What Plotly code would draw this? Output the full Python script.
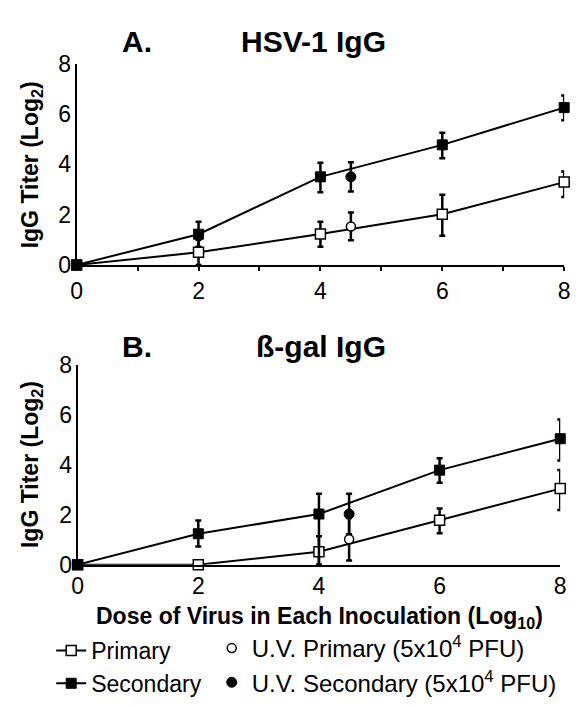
import plotly.graph_objects as go

# ---------------- data ----------------
dose = [0, 2, 4, 6, 8]
uv_dose = [4.5]

# Panel A: HSV-1 IgG
a_primary = [0, 0.50, 1.23, 2.01, 3.29]
a_primary_up = [None, 0.50, 0.49, 0.78, 0.42]
a_primary_dn = [None, 0.50, 0.51, 0.85, 0.59]
a_secondary = [0, 1.22, 3.50, 4.77, 6.25]
a_secondary_up = [None, 0.50, 0.56, 0.48, 0.48]
a_secondary_dn = [None, 0.50, 0.61, 0.53, 0.50]
a_uv_primary = [1.53]
a_uv_primary_err = [0.55]
a_uv_secondary = [3.50]
a_uv_secondary_err = [0.58]

# Panel B: beta-gal IgG
b_primary = [0, 0.0, 0.52, 1.78, 3.05]
b_primary_up = [None, None, 0.62, 0.47, 0.75]
b_primary_dn = [None, None, 0.52, 0.52, 0.86]
b_secondary = [0, 1.24, 2.03, 3.79, 5.05]
b_secondary_up = [None, 0.53, 0.81, 0.48, 0.77]
b_secondary_dn = [None, 0.51, 2.03, 0.51, 0.87]
b_uv_primary = [1.02]
b_uv_primary_err = [0.85]
b_uv_secondary = [2.03]
b_uv_secondary_err = [0.81]

x_ticks = [0, 2, 4, 6, 8]
y_ticks = [0, 2, 4, 6, 8]

legend_names = ["Primary", "Secondary",
                "U.V. Primary (5x10<sup>4</sup> PFU)",
                "U.V. Secondary (5x10<sup>4</sup> PFU)"]

FONT = "Liberation Sans, Arial, Helvetica, sans-serif"
OFF = 8                      # default page body margin
W, H = 578 - OFF, 705 - OFF

fig = go.Figure()


def err(up, dn):
    return dict(type="data", symmetric=False, array=up, arrayminus=dn,
                color="black", thickness=2.5, width=3)


def err_sym(e):
    return dict(type="data", array=e, color="black", thickness=2.5, width=3)


def add_panel(xa, ya, prim, pu, pd, sec, su, sd, uvp, uvpe, uvs, uvse, show):
    fig.add_trace(go.Scatter(
        x=dose, y=prim, mode="lines+markers", name=legend_names[0],
        xaxis=xa, yaxis=ya, showlegend=show, legend="legend",
        line=dict(color="black", width=2),
        marker=dict(symbol="square", size=10, color="white",
                    line=dict(color="black", width=1.5)),
        error_y=err(pu, pd), cliponaxis=False))
    fig.add_trace(go.Scatter(
        x=dose, y=sec, mode="lines+markers", name=legend_names[1],
        xaxis=xa, yaxis=ya, showlegend=show, legend="legend",
        line=dict(color="black", width=2),
        marker=dict(symbol="square", size=10, color="black",
                    line=dict(color="black", width=1)),
        error_y=err(su, sd), cliponaxis=False))
    fig.add_trace(go.Scatter(
        x=uv_dose, y=uvs, mode="markers", name=legend_names[3],
        xaxis=xa, yaxis=ya, showlegend=show, legend="legend2",
        marker=dict(symbol="circle", size=10, color="black",
                    line=dict(color="black", width=1)),
        error_y=err_sym(uvse), cliponaxis=False))
    fig.add_trace(go.Scatter(
        x=uv_dose, y=uvp, mode="markers", name=legend_names[2],
        xaxis=xa, yaxis=ya, showlegend=show, legend="legend2",
        marker=dict(symbol="circle", size=9, color="white",
                    line=dict(color="black", width=1.5)),
        error_y=err_sym(uvpe), cliponaxis=False))


add_panel("x", "y", a_primary, a_primary_up, a_primary_dn,
          a_secondary, a_secondary_up, a_secondary_dn,
          a_uv_primary, a_uv_primary_err, a_uv_secondary, a_uv_secondary_err, True)
add_panel("x2", "y2", b_primary, b_primary_up, b_primary_dn,
          b_secondary, b_secondary_up, b_secondary_dn,
          b_uv_primary, b_uv_primary_err, b_uv_secondary, b_uv_secondary_err, False)


def px_x(p):
    return (p - OFF) / W


def px_y(p):
    return 1 - (p - OFF) / H


axis_common = dict(showgrid=False, zeroline=False, showline=True,
                   linecolor="black", linewidth=2, range=[0, 8],
                   tickfont=dict(family=FONT, size=23, color="black"),
                   fixedrange=True)

fig.update_layout(
    width=W, height=H,
    margin=dict(l=0, r=0, t=0, b=0),
    paper_bgcolor="white", plot_bgcolor="white",
    font=dict(family=FONT, color="black"),
    xaxis=dict(domain=[px_x(72), px_x(570)], anchor="y",
               tickvals=x_ticks, ticktext=[str(v) for v in x_ticks],
               ticks="outside", ticklen=4, tickwidth=1.5, tickcolor="black",
               minor=dict(dtick=1, tick0=0, ticks="outside", ticklen=4,
                          tickwidth=1.5, tickcolor="black"),
               **axis_common),
    yaxis=dict(domain=[px_y(266), px_y(53)], anchor="x",
               tickvals=y_ticks, ticks="", ticklabelstandoff=-1, **axis_common),
    xaxis2=dict(domain=[px_x(73), px_x(566)], anchor="y2",
                tickvals=x_ticks, ticks="", ticklabelstandoff=0, **axis_common),
    yaxis2=dict(domain=[px_y(583), px_y(372)], anchor="x2",
                tickvals=y_ticks, ticks="", ticklabelstandoff=-1, **axis_common),
    legend=dict(x=px_x(46), y=px_y(651), xanchor="left", yanchor="top",
                font=dict(family=FONT, size=23, color="black"),
                bgcolor="rgba(0,0,0,0)", tracegroupgap=0, itemwidth=30),
    legend2=dict(x=px_x(210), y=px_y(648), xanchor="left", yanchor="top",
                 font=dict(family=FONT, size=24, color="black"),
                 bgcolor="rgba(0,0,0,0)", tracegroupgap=0, itemwidth=30,
                 traceorder="reversed"),
)

annots = [
    dict(text="<b>A.</b>", x=px_x(116), y=px_y(30), xanchor="left", size=30),
    dict(text="<b>HSV-1 IgG</b>", x=px_x(390), y=px_y(30), xanchor="right", size=30),
    dict(text="<b>B.</b>", x=px_x(116), y=px_y(352), xanchor="left", size=30),
    dict(text="<b>ß-gal IgG</b>", x=px_x(390), y=px_y(352), xanchor="right", size=30),
    dict(text="<b>Dose of Virus in Each Inoculation (Log<sub>10</sub>)</b>",
         x=px_x(320), y=px_y(639), xanchor="center", size=23),
]
for a in annots:
    fig.add_annotation(text=a["text"], x=a["x"], y=a["y"], xref="paper", yref="paper",
                       xanchor=a["xanchor"], yanchor="middle", showarrow=False,
                       font=dict(family=FONT, size=a["size"], color="black"))

for yc in (160, 477):
    fig.add_annotation(text="<b>IgG Titer (Log<sub>2</sub>)</b>", x=px_x(26), y=px_y(yc),
                       xref="paper", yref="paper", xanchor="center", yanchor="middle",
                       textangle=-90, showarrow=False,
                       font=dict(family=FONT, size=23, color="black"))

fig.write_html("out.html")
